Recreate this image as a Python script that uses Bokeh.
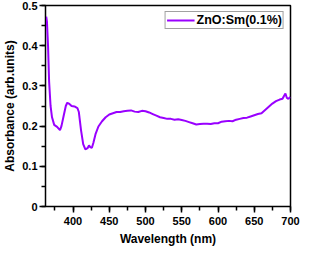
from bokeh.plotting import figure
from bokeh.models import ColumnDataSource, Legend, LegendItem, SingleIntervalTicker
from bokeh.embed import file_html
from bokeh.resources import INLINE

wavelength = [362, 363, 364, 365.5, 367, 369, 371, 374, 378, 382, 384, 387, 390, 392,
              395, 398, 402, 406, 408, 411, 414, 417, 420, 422, 424, 426, 428, 431,
              435, 440, 445, 450, 455, 460, 465, 470, 475, 480, 485, 490, 495, 500,
              505, 510, 515, 520, 525, 530, 535, 540, 545, 550, 555, 560, 565, 570,
              575, 580, 585, 590, 595, 600, 605, 610, 615, 620, 625, 630, 635, 640,
              645, 650, 655, 660, 665, 670, 675, 680, 685, 689, 691, 693, 695, 697, 700]
absorbance = [0.45, 0.472, 0.46, 0.40, 0.31, 0.25, 0.222, 0.203, 0.198, 0.190, 0.200,
              0.225, 0.250, 0.258, 0.255, 0.250, 0.249, 0.245, 0.235, 0.190, 0.155,
              0.142, 0.145, 0.152, 0.147, 0.146, 0.158, 0.180, 0.199, 0.212, 0.222,
              0.229, 0.232, 0.235, 0.235, 0.237, 0.238, 0.239, 0.236, 0.235, 0.238,
              0.237, 0.234, 0.230, 0.226, 0.222, 0.220, 0.218, 0.218, 0.216, 0.217,
              0.215, 0.213, 0.210, 0.207, 0.204, 0.205, 0.206, 0.206, 0.205, 0.207,
              0.207, 0.211, 0.212, 0.213, 0.212, 0.216, 0.218, 0.220, 0.221, 0.224,
              0.227, 0.230, 0.232, 0.240, 0.248, 0.256, 0.262, 0.266, 0.268, 0.275,
              0.281, 0.270, 0.268, 0.272]
series_name = "ZnO:Sm(0.1%)"
x_tick_step = 50
y_tick_step = 0.1

src = ColumnDataSource(dict(x=wavelength, y=absorbance))

p = figure(width=300, height=248, output_backend="svg", toolbar_location=None,
           x_range=(362, 700), y_range=(0, 0.5),
           min_border_left=2, min_border_top=5, min_border_right=10, min_border_bottom=0,
           x_axis_label="Wavelength (nm)", y_axis_label="Absorbance (arb.units)")
p.outline_line_color = "black"
p.outline_line_width = 1.5
p.xgrid.grid_line_color = None
p.ygrid.grid_line_color = None

r = p.line("x", "y", source=src, line_color="#9900FF", line_width=2)

p.xaxis[0].ticker = SingleIntervalTicker(interval=x_tick_step, num_minor_ticks=2)
p.yaxis[0].ticker = SingleIntervalTicker(interval=y_tick_step, num_minor_ticks=2)

for ax in (p.xaxis[0], p.yaxis[0]):
    ax.major_tick_in = 0
    ax.major_tick_line_width = 1.5
    ax.minor_tick_line_width = 1.5
    ax.major_label_text_font = "Liberation Sans"
    ax.major_label_text_font_style = "bold"
    ax.major_label_text_font_size = "11px"
    ax.major_label_text_color = "black"
    ax.axis_label_text_font = "Liberation Sans"
    ax.axis_label_text_font_style = "bold"
    ax.axis_label_text_font_size = "12px"
    ax.axis_label_text_color = "black"
p.yaxis[0].major_label_standoff = 2
p.yaxis[0].axis_label_standoff = 2
p.xaxis[0].major_label_standoff = 4
p.xaxis[0].axis_label_standoff = 4

legend = Legend(items=[LegendItem(label=series_name, renderers=[r])],
                location="top_right")
legend.label_text_font = "Liberation Sans"
legend.label_text_font_style = "bold"
legend.label_text_font_size = "12.5px"
legend.label_text_color = "black"
legend.border_line_color = "#444444"
legend.border_line_width = 1
legend.padding = 1
legend.margin = 6
legend.spacing = 0
legend.glyph_width = 28
legend.glyph_height = 14
legend.label_standoff = 2
legend.label_height = 14
p.add_layout(legend)

open("out.html", "w").write(file_html(p, INLINE))
